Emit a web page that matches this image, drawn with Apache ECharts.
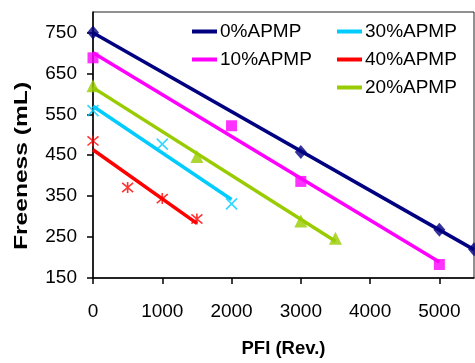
<!DOCTYPE html>
<html><head><meta charset="utf-8">
<script src="https://cdn.jsdelivr.net/npm/echarts@6/dist/echarts.min.js"></script>
<style>html,body{margin:0;padding:0;background:#fff}#c{width:475px;height:363px}</style>
</head><body><div id="c"></div>
<script>
const seriesNames = ['0%APMP', '10%APMP', '30%APMP', '40%APMP', '20%APMP'];
const pfi0 = [0, 3000, 5000, 5500];
const free0 = [750, 458, 268, 220];
const pfi10 = [0, 2000, 3000, 5000];
const free10 = [688, 522, 386, 183];
const pfi20 = [0, 1500, 3000, 3500];
const free20 = [620, 447, 289, 247];
const pfi30 = [0, 1000, 2000];
const free30 = [559, 477, 331];
const pfi40 = [0, 500, 1000, 1500];
const free40 = [485, 371, 344, 294];
const yTicks = [150, 250, 350, 450, 550, 650, 750];
const xTicks = [0, 1000, 2000, 3000, 4000, 5000];
const xTitle = 'PFI (Rev.)';
const yTitle = 'Freeness (mL)';

const colors = {'0%APMP':'#000080','10%APMP':'#FF00FF','30%APMP':'#00CCFF','40%APMP':'#FF0000','20%APMP':'#99CC00'};
const sets = {
  '0%APMP': [pfi0, free0, 'diamond', [12, 14]],
  '10%APMP': [pfi10, free10, 'rect', 11],
  '30%APMP': [pfi30, free30, 'path://M0,0L10,10M10,0L0,10', 11],
  '40%APMP': [pfi40, free40, 'path://M0,0L10,10M10,0L0,10M5,-1L5,11', 11],
  '20%APMP': [pfi20, free20, 'triangle', 13]
};

function fit(xs, ys) {
  const n = xs.length;
  const mx = xs.reduce((a,b)=>a+b,0)/n, my = ys.reduce((a,b)=>a+b,0)/n;
  let sxy = 0, sxx = 0;
  for (let i=0;i<n;i++){ sxy += (xs[i]-mx)*(ys[i]-my); sxx += (xs[i]-mx)*(xs[i]-mx); }
  const b = sxy/sxx, a = my - b*mx;
  const x0 = Math.min(...xs), x1 = Math.max(...xs);
  return [[x0, a+b*x0],[x1, a+b*x1]];
}

const series = [];
seriesNames.forEach(name => {
  const [xs, ys, sym, size] = sets[name];
  series.push({
    name, type: 'line', data: fit(xs, ys), showSymbol: false, symbol: 'none',
    lineStyle: {color: colors[name], width: 3.5}, itemStyle:{color: colors[name]}, z: 2, silent: true
  });
  const isPath = sym.startsWith('path://');
  series.push({
    name, type: 'scatter', data: xs.map((x,i)=>[x, ys[i]]), symbol: sym, symbolSize: size,
    itemStyle: isPath ? {color: 'rgba(0,0,0,0)', borderColor: colors[name], borderWidth: 1.6} : {color: colors[name]},
    z: 3
  });
});

const font = 'Liberation Sans, Arial, sans-serif';
function legend(names, left) {
  return {
    orient: 'vertical', left, top: 22, itemWidth: 25, itemHeight: 4, itemGap: 9,
    icon: 'rect', selectedMode: false, padding: 0,
    data: names.map(n => ({name: n, itemStyle: {color: colors[n]}})),
    textStyle: {fontFamily: font, fontSize: 19, color: '#000', lineHeight: 19, padding: [0,0,0,-2]}
  };
}

const chart = echarts.init(document.getElementById('c'));
chart.setOption({
  animation: false,
  backgroundColor: '#fff',
  grid: {left: 93, right: 1, top: 12, bottom: 75, show: true, borderColor: '#222', borderWidth: 1},
  legend: [legend(['0%APMP','10%APMP'], 192), legend(['30%APMP','40%APMP','20%APMP'], 337)],
  graphic: [{
    type: 'text', x: 22, y: 166, rotation: Math.PI / 2, scaleX: 1.33,
    style: {text: yTitle, font: 'bold 18.5px ' + font, fill: '#000', align: 'center', verticalAlign: 'middle'}
  }],
  xAxis: {
    type: 'value', min: 0, max: 5500, interval: 1000,
    name: xTitle, nameLocation: 'middle', nameGap: 61,
    nameTextStyle: {fontFamily: font, fontSize: 18.5, fontWeight: 'bold', color: '#000'},
    axisLine: {lineStyle: {color: '#000', width: 1.5}},
    axisTick: {show: true, length: 6, lineStyle: {color: '#000', width: 1.5}, customValues: xTicks},
    axisLabel: {fontFamily: font, fontSize: 19, color: '#000', margin: 24, customValues: xTicks, formatter: v => String(v)},
    splitLine: {show: false}
  },
  yAxis: {
    type: 'value', min: 150, max: 800,
    axisLine: {show: true, lineStyle: {color: '#000', width: 1.5}},
    axisTick: {show: true, length: 6, lineStyle: {color: '#000', width: 1.5}, customValues: yTicks},
    axisLabel: {fontFamily: font, fontSize: 19, color: '#000', margin: 16, customValues: yTicks, formatter: v => String(v)},
    splitLine: {show: false}
  },
  series
});
</script></body></html>
